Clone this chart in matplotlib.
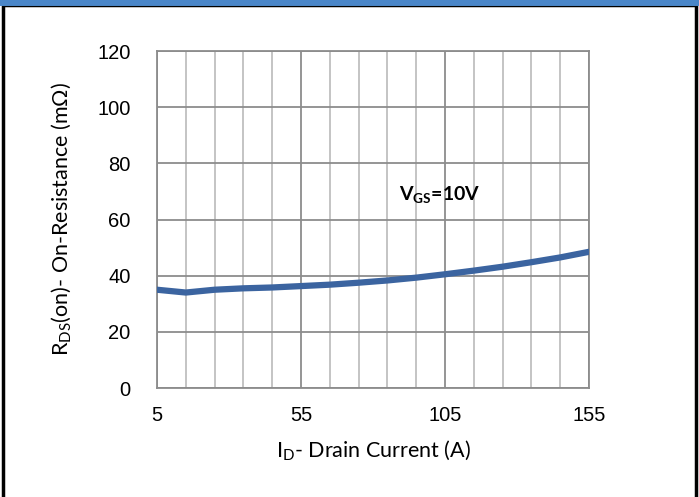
import matplotlib.pyplot as plt
from matplotlib.patches import Rectangle
from matplotlib.lines import Line2D

plt.rcParams['font.family'] = ['Liberation Sans', 'DejaVu Sans']
plt.rcParams['mathtext.fontset'] = 'custom'
plt.rcParams['mathtext.rm'] = 'Lato'
plt.rcParams['mathtext.bf'] = 'Lato:bold'

drain_current = [5, 15, 25, 35, 45, 55, 65, 75, 85, 95, 105, 115, 125, 135, 145, 155]
on_resistance = [35.0, 34.0, 35.0, 35.5, 35.8, 36.3, 36.8, 37.5, 38.3, 39.3, 40.5, 41.8, 43.2, 44.8, 46.5, 48.5]

fig = plt.figure(figsize=(6.99, 4.97), dpi=100)
ax = fig.add_axes([0.2246, 0.2193, 0.618, 0.678])

# outer frame and blue top strip
fig.patches.append(Rectangle((0.005, -0.01), 0.99, 1.0, transform=fig.transFigure,
                             fill=False, edgecolor='black', linewidth=2.5))
fig.lines.append(Line2D([0, 1], [0.996, 0.996], transform=fig.transFigure,
                        color='#4a86c8', linewidth=5))

ax.plot(drain_current, on_resistance, color='#3b64a0', linewidth=4.5,
        solid_capstyle='round', zorder=3)

ax.set_xlim(5, 155)
ax.set_ylim(0, 120)
ax.set_xticks([5, 55, 105, 155])
ax.set_xticks(range(15, 155, 10), minor=True)
ax.set_yticks(range(0, 121, 20))
ax.grid(True, which='major', color='#8c8c8c', linewidth=1.3)
ax.grid(True, which='minor', axis='x', color='#bfbfbf', linewidth=1.3)
ax.tick_params(axis='y', which='both', length=0, labelsize=14.5, pad=19)
ax.tick_params(axis='x', which='both', length=0, labelsize=14.5, pad=13)
for s in ax.spines.values():
    s.set_color('#8c8c8c')
    s.set_linewidth(1.3)

ax.set_xlabel(r'I$_\mathregular{D}$- Drain Current (A)', fontsize=15.5, family='Lato', labelpad=10)
ax.set_ylabel(r'R$_\mathregular{DS}$(on)- On-Resistance (mΩ)', fontsize=15.5, family='Lato', labelpad=17)
ax.text(103, 68.5, r'V$_\mathbf{GS}$=10V', fontsize=14, family='Lato', fontweight='bold',
        ha='center', va='center')

fig.savefig('out.png', dpi=100)
